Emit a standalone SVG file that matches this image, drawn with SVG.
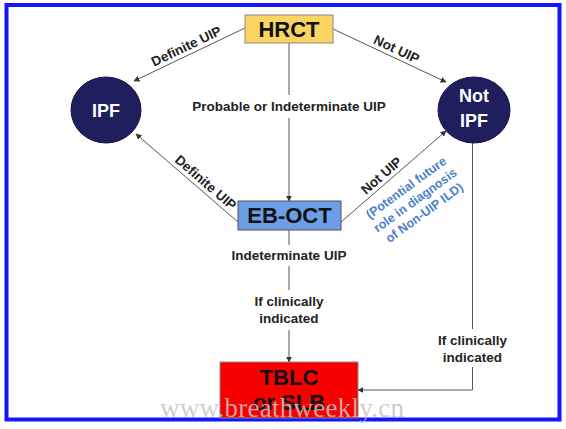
<svg xmlns="http://www.w3.org/2000/svg" width="566" height="429" viewBox="0 0 566 429">
<defs>
<marker id="arr" viewBox="0 0 10 10" refX="9" refY="5" markerWidth="6" markerHeight="6" orient="auto-start-reverse" markerUnits="userSpaceOnUse">
<path d="M0,0 L10,5 L0,10 z" fill="#333"/>
</marker>
<style>
.ln{stroke:#555;stroke-width:1;fill:none}
.lbl{font-family:"Liberation Sans",Arial,sans-serif;font-weight:bold;font-size:13.5px;fill:#222}
.big{font-family:"Liberation Sans",Arial,sans-serif;font-weight:bold;font-size:22px;fill:#111;text-anchor:middle}
.circ{fill:#1e1f5c;stroke:#14143e;stroke-width:1}
.ctx{font-family:"Liberation Sans",Arial,sans-serif;font-weight:bold;font-size:18px;fill:#fff;text-anchor:middle}
.blue{font-family:"Liberation Sans",Arial,sans-serif;font-weight:bold;font-size:12.5px;fill:#4a80c8;text-anchor:middle}
</style>
</defs>
<rect x="0" y="0" width="566" height="429" fill="#fff"/>
<rect x="6.5" y="5" width="553" height="414.5" fill="#fff" stroke="#1414ff" stroke-width="4"/>

<g id="connectors">
<line class="ln" x1="245" y1="28" x2="134" y2="81" marker-end="url(#arr)"/>
<line class="ln" x1="333" y1="29" x2="446" y2="82" marker-end="url(#arr)"/>
<line class="ln" x1="289" y1="43" x2="289" y2="95"/>
<line class="ln" x1="289" y1="118" x2="289" y2="201" marker-end="url(#arr)"/>
<line class="ln" x1="238" y1="222" x2="136" y2="134" marker-end="url(#arr)"/>
<line class="ln" x1="341" y1="222" x2="446" y2="131" marker-end="url(#arr)"/>
<line class="ln" x1="289" y1="229" x2="289" y2="245"/>
<line class="ln" x1="289" y1="266" x2="289" y2="290"/>
<line class="ln" x1="289" y1="330" x2="289" y2="362" marker-end="url(#arr)"/>
<polyline class="ln" points="472.5,143 472.5,329"/>
<polyline class="ln" points="472.5,367 472.5,390 358,390" marker-end="url(#arr)"/>

<text class="lbl" transform="translate(190,54) rotate(-25.5)" y="-4" text-anchor="middle">Definite UIP</text>
<text class="lbl" transform="translate(393,57) rotate(25.1)" y="-4" text-anchor="middle">Not UIP</text>
<text class="lbl" x="289" y="111" text-anchor="middle">Probable or Indeterminate UIP</text>
<text class="lbl" transform="translate(200,189) rotate(40.8)" y="-4" text-anchor="middle">Definite UIP</text>
<text class="lbl" transform="translate(387,182) rotate(-40.9)" y="-4" text-anchor="middle">Not UIP</text>
<g transform="translate(415,200) rotate(-36)">
<text class="blue" y="-11">(Potential future</text>
<text class="blue" y="4.5">role in diagnosis</text>
<text class="blue" y="20">of Non-UIP ILD)</text>
</g>
<text class="lbl" x="289" y="260" text-anchor="middle">Indeterminate UIP</text>
<text class="lbl" x="289" y="306" text-anchor="middle">If clinically</text>
<text class="lbl" x="289" y="323" text-anchor="middle">indicated</text>
<text class="lbl" x="472.5" y="345" text-anchor="middle">If clinically</text>
<text class="lbl" x="472.5" y="362" text-anchor="middle">indicated</text>
</g>

<g id="hrct">
<rect x="245" y="15" width="88" height="28" fill="#fbd462" stroke="#8a8a8a" stroke-width="1"/>
<text class="big" x="289" y="37">HRCT</text>
</g>
<g id="ipf">
<ellipse class="circ" cx="106" cy="110" rx="35" ry="33"/>
<text class="ctx" x="106" y="117">IPF</text>
</g>
<g id="notipf">
<ellipse class="circ" cx="474" cy="110" rx="36" ry="33"/>
<text class="ctx" x="474" y="102">Not</text>
<text class="ctx" x="474" y="127">IPF</text>
</g>
<g id="eboct">
<rect x="238" y="201" width="103" height="29" fill="#6c9ee8" stroke="#555" stroke-width="1"/>
<text class="big" x="289.5" y="223">EB-OCT</text>
</g>
<g id="tblc">
<rect x="220" y="362" width="138" height="56" fill="#f80000" stroke="#888" stroke-width="1"/>
<text class="big" x="289" y="385">TBLC</text>
<text class="big" x="289" y="410">or SLB</text>
</g>
<text x="160" y="417" font-family="Liberation Serif,serif" font-size="27" textLength="244" fill="#c4c4c4" fill-opacity="0.85">www.breathweekly.cn</text>
</svg>
